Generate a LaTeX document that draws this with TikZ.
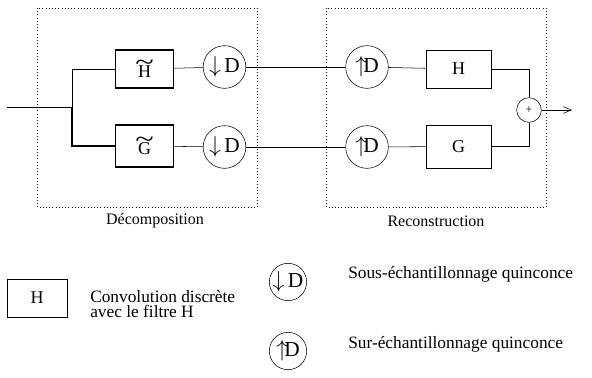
\documentclass[tikz,border=0pt]{standalone}
\usepackage{fontspec}
\usepackage{graphicx}
\setmainfont{Liberation Serif}
\usetikzlibrary{arrows.meta, positioning}
\tikzset{
	filtre/.style={draw, minimum width=44pt, minimum height=28.5pt, inner sep=0pt, align=center, font=\fontsize{13.5}{14}\selectfont},
	echant/.style={draw, circle, minimum size=32pt, inner sep=0pt, font=\fontsize{16}{16}\selectfont},
	legende/.style={anchor=west, font=\fontsize{13}{11}\selectfont, align=left, inner sep=0pt},
	titre/.style={font=\fontsize{12}{12}\selectfont}
}
\newcommand{\bas}{$\big\downarrow$\,D}
\newcommand{\haut}{$\big\uparrow$\!D}
\newcommand{\tild}[1]{\scalebox{1.9}[1.4]{\textasciitilde}\\[-9pt]#1}
\begin{document}
\begin{tikzpicture}[x=0.75pt, y=-0.75pt]
				\useasboundingbox (0,0) rectangle (592,378);
				\draw[dotted] (37,8) rectangle (257,207);
				\draw[dotted] (326,8) rectangle (546,207);
				\node[titre] (dec) at (155,221) {Décomposition};
				\node[titre] (rec) at (436,221) {Reconstruction};
				\coordinate (entree) at (7,107);
				\coordinate (branche) at (72,107);
				\node[filtre, thick] (Ht) at (144.5,69) {\tild{H}};
				\node[filtre, thick, minimum height=31.5pt] (Gt) at (144.5,146) {\tild{G}};
				\node[echant] (dH) at (224.5,67) {\bas};
				\node[echant] (dG) at (224.5,147) {\bas};
				\node[echant] (uH) at (367,67) {\haut};
				\node[echant] (uG) at (367,147) {\haut};
				\node[filtre, minimum width=48.75pt] (H) at (458.5,69) {H};
				\node[filtre, minimum width=48.75pt, minimum height=32pt] (G) at (458.5,146.5) {G};
				\node[draw, circle, minimum size=18.5pt, inner sep=0pt, font=\small] (plus) at (529,110) {+};
				\coordinate (sortie) at (572,110);
				\draw (entree) -- (branche);
				\draw (branche) |- (Ht.west);
				\draw[thick] (branche) |- (Gt.west);
				\draw (Ht) -- (dH);
				\draw (Gt) -- (dG);
				\draw (dH) -- (uH);
				\draw (dG) -- (uG);
				\draw (uH) -- (H);
				\draw (uG) -- (G);
				\draw (H.east) -| (plus.north);
				\draw (G.east) -| (plus.south);
				\draw[-{Straight Barb[length=6pt, width=5pt]}] (plus) -- (sortie);
				\node[filtre, minimum width=45pt] (lH) at (37,298) {H};
				\node[legende] (lHtxt) at (90,304) {Convolution discrète\\avec le filtre H};
				\node[echant, minimum size=28pt] (lD) at (288,282) {\bas};
				\node[legende] (lDtxt) at (348,274) {Sous-échantillonnage quinconce};
				\node[echant, minimum size=28pt] (lU) at (288,351) {\haut};
				\node[legende] (lUtxt) at (348,344) {Sur-échantillonnage quinconce};
			\end{tikzpicture}
\end{document}
